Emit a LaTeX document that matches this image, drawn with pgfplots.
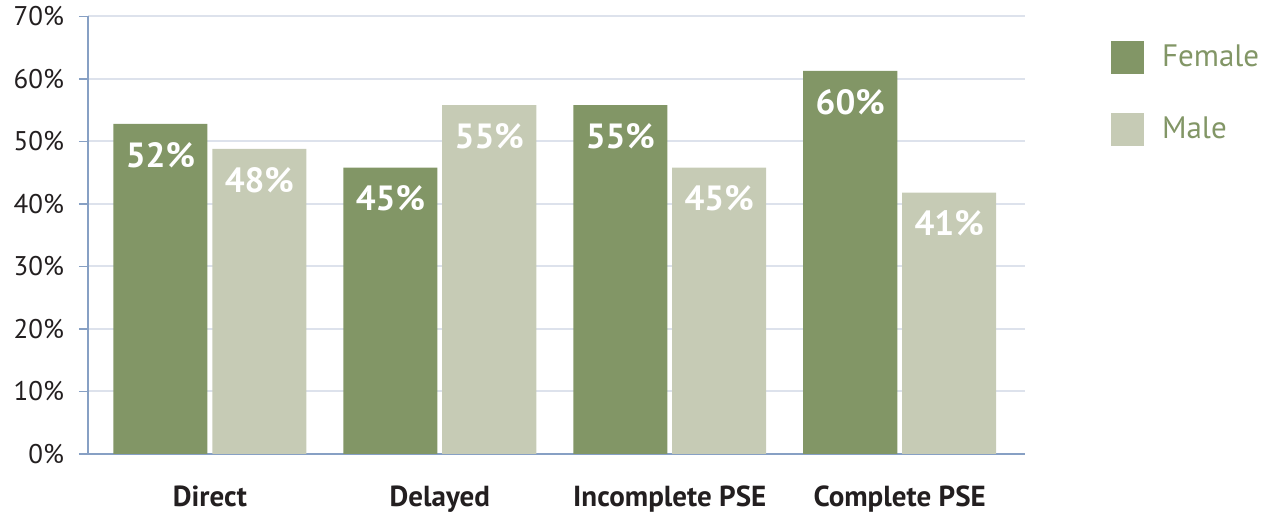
\documentclass[border=0pt]{standalone}
\usepackage{pgfplots}
\pgfplotsset{compat=1.18}
\usepackage{pgfplotstable}
\usepackage{fontspec}
\setmainfont{PT Sans}

\definecolor{fem}{HTML}{829666}
\definecolor{mal}{HTML}{C6CBB5}
\definecolor{gridc}{HTML}{DDE2EC}
\definecolor{axc}{HTML}{87A0C4}
\definecolor{txt}{HTML}{231F20}

% bar heights, printed labels beside them
\pgfplotstableread{
x f fl m ml
0 52.8 52 48.8 48
1 45.8 45 55.8 55
2 55.8 55 45.8 45
3 61.3 60 41.8 41
}\gendata

\begin{document}
\begin{tikzpicture}
\begin{axis}[
    scale only axis,
    width=468.5pt, height=218.75pt,
    xmin=-0.53, xmax=3.545,
    ymin=0, ymax=70,
    axis x line*=bottom, axis y line*=left,
    axis line style={-, axc, line width=0.9pt},
    ytick={0,10,...,70},
    yticklabel={\pgfmathprintnumber{\tick}\%},
    /pgf/number format/assume math mode=true,
    yticklabel style={font=\fontsize{13.5}{14}\selectfont, text=txt, xshift=-4pt},
    ymajorgrids,
    grid style={gridc, line width=1pt},
    tick align=outside,
    major tick length=4.5pt,
    tick style={axc, line width=0.9pt},
    xtick={0,1,2,3},
    xticklabels={Direct,Delayed,Incomplete PSE,Complete PSE},
    x tick style={draw=none},
    xticklabel style={font=\bfseries\fontsize{14.5}{15}\selectfont, text=txt, anchor=base, yshift=-22pt},
    ybar,
    bar width=0.409,
    point meta=explicit symbolic,
    nodes near coords={\pgfplotspointmeta\%},
    every node near coord/.append style={font=\bfseries\fontsize{17.5}{18}\selectfont,
        text=white, anchor=center, yshift=-15.5pt},
    legend style={draw=none, fill=none, at={(1.085,0.955)}, anchor=north west,
        font=\fontsize{15.5}{16}\selectfont, text=fem, row sep=19.5pt,
        /tikz/every odd column/.append style={column sep=7pt}},
    legend cell align=left,
    legend image code/.code={\draw[#1, draw=none] (0pt,-8.25pt) rectangle (16.5pt,8.25pt);},
]
\addplot[bar shift=-0.215, fill=fem, draw=none] table[x=x, y=f, meta=fl]{\gendata};
\addplot[bar shift=0.215, fill=mal, draw=none] table[x=x, y=m, meta=ml]{\gendata};
\legend{Female, Male}
\end{axis}
\path (-44pt,-30pt) rectangle (592pt,227pt);
\end{tikzpicture}
\end{document}
